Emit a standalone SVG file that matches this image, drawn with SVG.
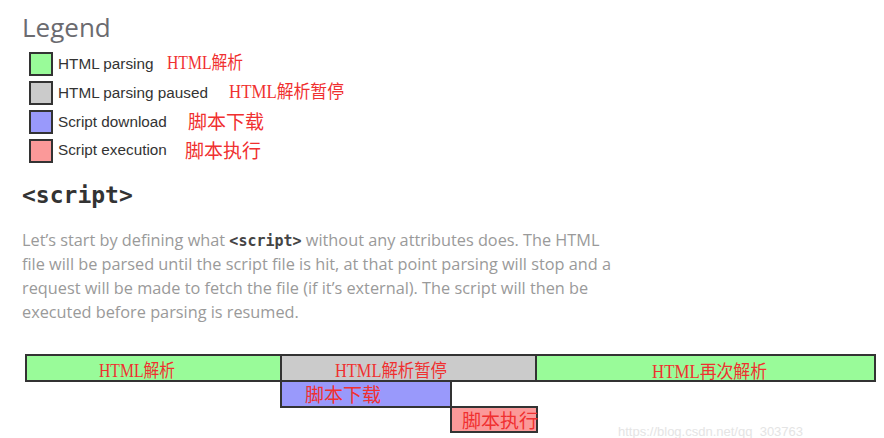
<svg xmlns="http://www.w3.org/2000/svg" width="884" height="438" viewBox="0 0 884 438">
<style>
.legend-title{font-family:"Open Sans","Liberation Sans",sans-serif;font-size:26px;fill:#6b6b70;}
.lbl{font-family:"Liberation Sans",Arial,sans-serif;font-size:15.3px;fill:#333;}
.cn{font-family:"Liberation Serif","Noto Sans CJK SC",serif;font-size:18px;fill:#f03030;}
.cn4{font-family:"Noto Sans CJK SC",serif;font-size:19px;fill:#f03030;}
.sw{stroke:#333;stroke-width:2;}
.h2{font-family:"DejaVu Sans Mono","Liberation Mono",monospace;font-weight:bold;font-size:23px;fill:#333;}
.p{font-family:"Open Sans","Liberation Sans",sans-serif;font-size:16.3px;fill:#9a9a9a;}
.code{font-family:"DejaVu Sans Mono","Liberation Mono",monospace;font-weight:bold;fill:#444;font-size:15px;}
.bar{stroke:#333;stroke-width:2;}
.green{fill:#99fb99;}
.gray{fill:#cbcbcb;}
.blue{fill:#9999fb;}
.red{fill:#fb9999;}
.wm{font-family:"Liberation Sans",Arial,sans-serif;font-size:13px;fill:#e4e4e4;}
</style>
<rect width="884" height="438" fill="#fff"/>
<g id="legend">
<text class="legend-title" x="22" y="37">Legend</text>
<g id="legend-parsing">
<rect class="sw green" x="30" y="53" width="22" height="22"/>
<text class="lbl" x="58" y="69">HTML parsing</text>
<text class="cn" x="167" y="69" textLength="76" lengthAdjust="spacingAndGlyphs">HTML解析</text>
</g>
<g id="legend-paused">
<rect class="sw gray" x="30" y="82" width="22" height="22"/>
<text class="lbl" x="58" y="98">HTML parsing paused</text>
<text class="cn" x="229" y="98" textLength="115" lengthAdjust="spacingAndGlyphs">HTML解析暂停</text>
</g>
<g id="legend-download">
<rect class="sw blue" x="30" y="111" width="22" height="22"/>
<text class="lbl" x="58" y="127">Script download</text>
<text class="cn4" x="188" y="129">脚本下载</text>
</g>
<g id="legend-execution">
<rect class="sw red" x="30" y="140" width="22" height="22"/>
<text class="lbl" x="58" y="155">Script execution</text>
<text class="cn4" x="185" y="158">脚本执行</text>
</g>
</g>
<g id="description">
<text class="h2" x="22" y="203">&lt;script&gt;</text>
<text class="p" x="22" y="246">Let’s start by defining what <tspan class="code">&lt;script&gt;</tspan> without any attributes does. The HTML</text>
<text class="p" x="22" y="270">file will be parsed until the script file is hit, at that point parsing will stop and a</text>
<text class="p" x="22" y="294">request will be made to fetch the file (if it’s external). The script will then be</text>
<text class="p" x="22" y="318">executed before parsing is resumed.</text>
</g>
<g id="timeline">
<g id="bar-parse1">
<rect class="bar green" x="26" y="355" width="255" height="26"/>
<text class="cn" x="99" y="377" textLength="76" lengthAdjust="spacingAndGlyphs">HTML解析</text>
</g>
<g id="bar-paused">
<rect class="bar gray" x="281" y="355" width="255" height="26"/>
<text class="cn" x="335" y="377" textLength="112" lengthAdjust="spacingAndGlyphs">HTML解析暂停</text>
</g>
<g id="bar-parse2">
<rect class="bar green" x="536" y="355" width="339" height="26"/>
<text class="cn" x="652" y="378" textLength="115" lengthAdjust="spacingAndGlyphs">HTML再次解析</text>
</g>
<g id="bar-download">
<rect class="bar blue" x="281" y="381" width="170" height="26"/>
<text class="cn4" x="305" y="402">脚本下载</text>
</g>
<g id="bar-execute">
<rect class="bar red" x="451" y="407" width="86" height="25"/>
<text class="cn4" x="462" y="428">脚本执行</text>
</g>
</g>
<g id="connectors"></g>
<text class="wm" x="618" y="436">https://blog.csdn.net/qq_303763</text>
</svg>
